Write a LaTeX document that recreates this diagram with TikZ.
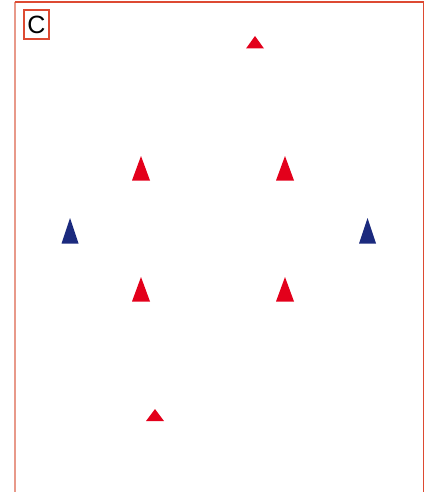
\documentclass[tikz,border=0pt]{standalone}
\usepackage{fontspec}
\setmainfont{Liberation Sans}
\definecolor{frame}{HTML}{DD4A32}
\definecolor{frameL}{HTML}{E8998A}
\definecolor{tred}{HTML}{E3001B}
\definecolor{tblue}{HTML}{1B2A7E}
\begin{document}
\begin{tikzpicture}[x=1pt,y=-1pt,
  redtri/.style={fill=tred,draw=none},
  bluetri/.style={fill=tblue,draw=none}]
\useasboundingbox (0,0) rectangle (430,492);
% frame
\draw[frameL,line width=1.8pt] (14.7,2) -- (14.7,492);
\draw[frame,line width=1.5pt] (14.7,2) -- (423.3,2) -- (423.3,492);
% label box
\node[draw=frame,line width=1.5pt,minimum width=25pt,minimum height=29pt,inner sep=0pt,
  font=\fontsize{25}{25}\selectfont] (lab) at (36.5,24.5) {C};
% small red triangles
\fill[redtri] (246,48.5) -- (255,36) -- (264,48.5) -- cycle;
\fill[redtri] (146,421) -- (155,409) -- (164,421) -- cycle;
% tall red triangles
\fill[redtri] (132,180.5) -- (141,156) -- (150,180.5) -- cycle;
\fill[redtri] (276,180.5) -- (285,156) -- (294,180.5) -- cycle;
\fill[redtri] (132,301.5) -- (141,277) -- (150,301.5) -- cycle;
\fill[redtri] (276,301.5) -- (285,277) -- (294,301.5) -- cycle;
% blue triangles
\fill[bluetri] (61.5,243.5) -- (70,218) -- (78.5,243.5) -- cycle;
\fill[bluetri] (359,243.5) -- (367.5,218) -- (376,243.5) -- cycle;
\end{tikzpicture}
\end{document}
